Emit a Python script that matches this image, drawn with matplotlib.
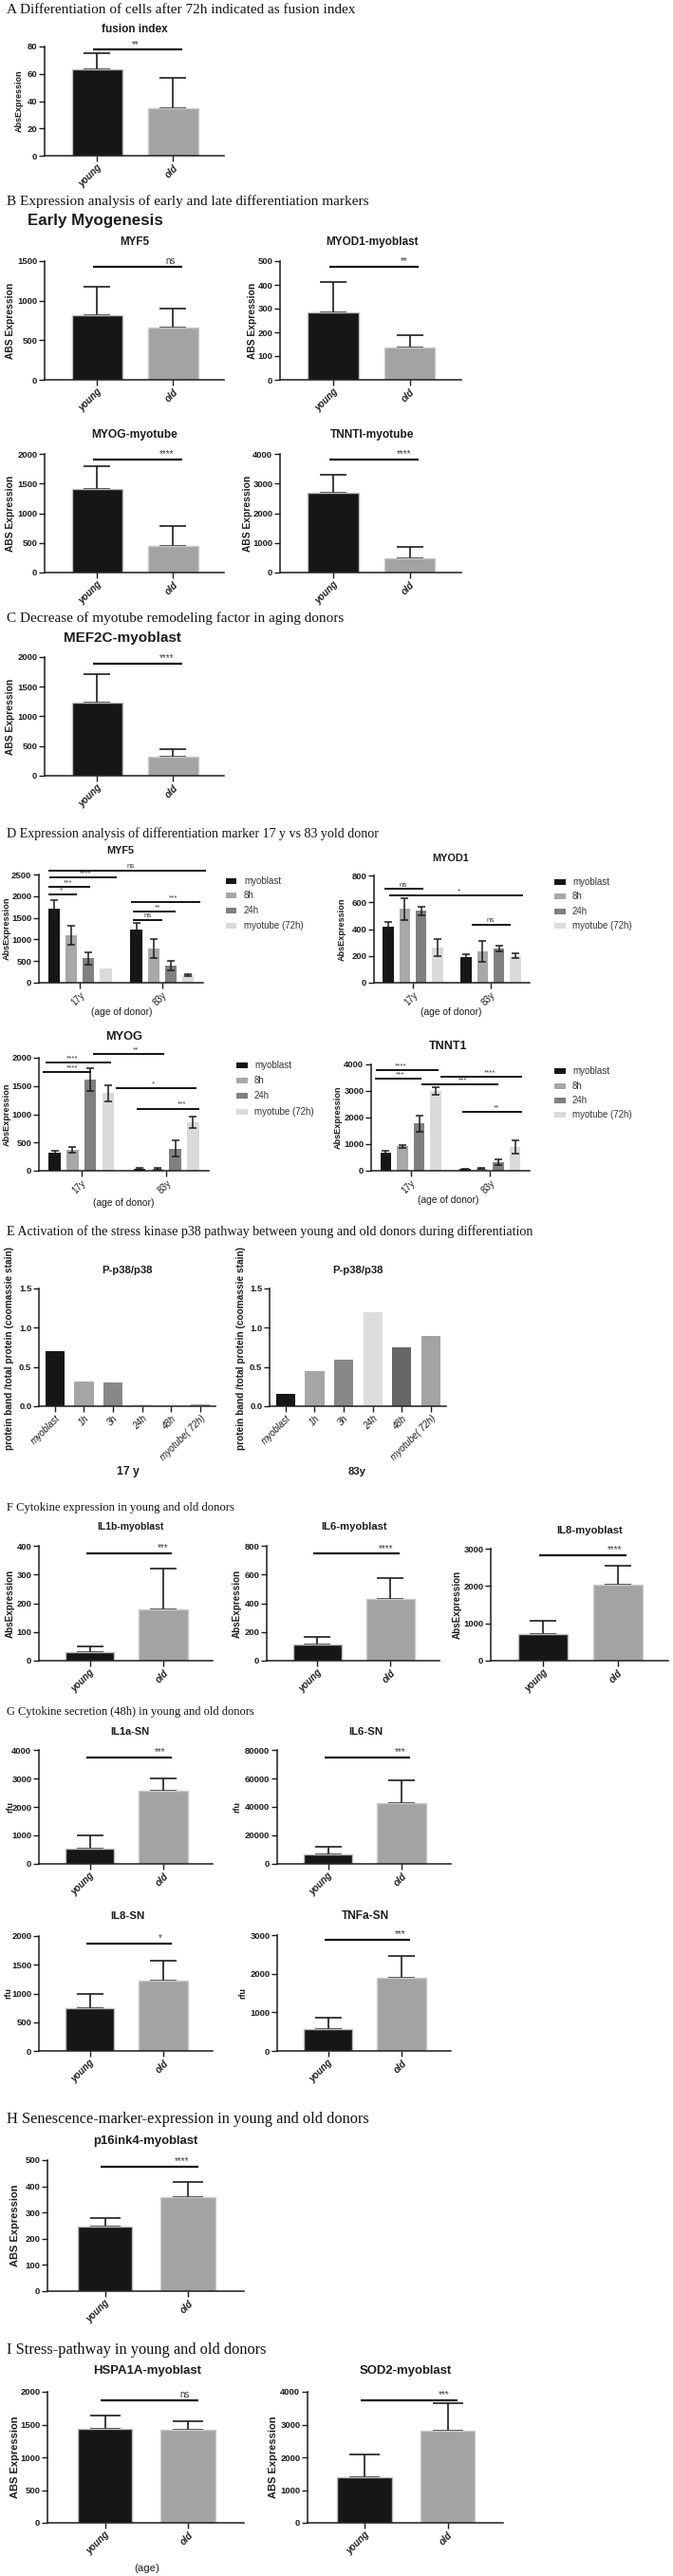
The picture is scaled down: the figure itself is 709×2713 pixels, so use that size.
import matplotlib
matplotlib.use('Agg')
import matplotlib.pyplot as plt
from matplotlib.patches import Rectangle
import numpy as np

# ---------------- data ----------------
age_groups = ['young', 'old']

A_fusion_mean = [63, 35]
A_fusion_sd = [12, 22]

B_myf5_mean = [815, 660]
B_myf5_sd = [365, 240]
B_myod1_mean = [283, 137]
B_myod1_sd = [129, 53]
B_myog_mean = [1415, 450]
B_myog_sd = [370, 340]
B_tnnti_mean = [2700, 480]
B_tnnti_sd = [610, 395]

C_mef2c_mean = [1230, 315]
C_mef2c_sd = [480, 125]

D_donors = ['17y', '83y']
D_stages = ['myoblast', '8h', '24h', 'myotube (72h)']
D_myf5_17y = [1700, 1090, 560, 320]
D_myf5_17y_sd = [205, 215, 140, 0]
D_myf5_83y = [1220, 790, 390, 170]
D_myf5_83y_sd = [160, 210, 115, 25]
D_myod1_17y = [415, 550, 535, 260]
D_myod1_17y_sd = [35, 80, 30, 65]
D_myod1_83y = [190, 235, 255, 200]
D_myod1_83y_sd = [22, 76, 24, 18]
D_myog_17y = [320, 365, 1610, 1370]
D_myog_17y_sd = [40, 50, 200, 150]
D_myog_83y = [30, 35, 390, 860]
D_myog_83y_sd = [15, 20, 140, 105]
D_tnnt1_17y = [680, 920, 1770, 3010]
D_tnnt1_17y_sd = [65, 55, 300, 140]
D_tnnt1_83y = [60, 80, 310, 890]
D_tnnt1_83y_sd = [20, 25, 110, 240]

# significance brackets: (x_start, x_end, height, label, label_x)
D_myf5_sig = [(-0.39, 1.54, 2588, 'ns', 0.62), (-0.37, 0.45, 2427, '****', 0.07),
              (-0.39, 0.12, 2223, '***', -0.15), (-0.39, -0.04, 2041, '*', -0.23),
              (0.62, 1.47, 1873, '***', 1.14), (0.64, 1.16, 1640, '**', 0.95),
              (0.64, 1.0, 1458, 'ns', 0.83)]
D_myod1_sig = [(-0.36, 0.13, 699, 'ns', -0.12), (-0.31, 1.41, 652, '*', 0.59),
               (0.76, 1.25, 431, 'ns', 1.0)]
D_myog_sig = [(0.14, 0.98, 2067, '**', 0.64), (-0.42, 0.35, 1916, '****', -0.11),
              (-0.45, 0.12, 1748, '****', -0.11), (0.41, 1.36, 1469, '*', 0.85),
              (0.65, 1.39, 1100, '***', 1.18)]
D_tnnt1_sig = [(-0.44, 0.35, 3786, '****', -0.13), (-0.45, 0.13, 3470, '***', -0.13),
               (0.37, 1.4, 3550, '****', 1.0), (0.13, 1.11, 3264, '***', 0.65),
               (0.65, 1.4, 2219, '**', 1.08)]

E_timepoints = ['myoblast', '1h', '3h', '24h', '48h', 'myotube( 72h)']
E_p38_17y = [0.70, 0.32, 0.30, 0.03, 0.005, 0.02]
E_p38_83y = [0.16, 0.45, 0.59, 1.20, 0.75, 0.90]

F_il1b_mean = [30, 180]
F_il1b_sd = [20, 140]
F_il6_mean = [115, 430]
F_il6_sd = [50, 142]
F_il8_mean = [720, 2030]
F_il8_sd = [340, 510]

G_il1a_mean = [550, 2580]
G_il1a_sd = [450, 420]
G_il6_mean = [6800, 43000]
G_il6_sd = [5200, 16000]
G_il8_mean = [745, 1215]
G_il8_sd = [255, 355]
G_tnfa_mean = [560, 1900]
G_tnfa_sd = [300, 550]

H_p16_mean = [245, 360]
H_p16_sd = [33, 55]

I_hspa1a_mean = [1440, 1415]
I_hspa1a_sd = [192, 135]
I_sod2_mean = [1400, 2800]
I_sod2_sd = [700, 860]

# ---------------- styling ----------------
C_YOUNG = '#161616'
C_OLD = '#a3a3a3'
D_COLORS = ['#161616', '#a8a8a8', '#808080', '#dadada']
E_COLORS = ['#161616', '#a6a6a6', '#888888', '#dddddd', '#666666', '#a3a3a3']
INK = '#1c1c1c'

SANS = ['Liberation Sans', 'DejaVu Sans']
SERIF = ['Liberation Serif', 'DejaVu Serif']
plt.rcParams['font.family'] = SANS

W, H = 709, 2713
fig = plt.figure(figsize=(W / 100, H / 100), dpi=100)
fig.patch.set_facecolor('white')
renderer = fig.canvas.get_renderer()

TICK_FS = 6.8


def fx(x):
    return x / W


def fy(y):
    return 1 - y / H


def fit(t, target, vertical=False):
    bb = t.get_window_extent(renderer)
    cur = bb.height if vertical else bb.width
    if cur > 0:
        t.set_fontsize(t.get_fontsize() * target / cur)
    return t


def ftext(x, y, s, fitw=None, vertical=False, **kw):
    kw.setdefault('ha', 'center')
    kw.setdefault('va', 'center')
    kw.setdefault('color', INK)
    t = fig.text(fx(x), fy(y), s, **kw)
    if fitw:
        fit(t, fitw, vertical)
    return t


def header(y, s, width):
    ftext(7, y, s, fitw=width, ha='left', family=SERIF, fontsize=11, color='#111111')


def make_ax(x0, x1, ytop, ybot):
    ax = fig.add_axes([fx(x0), fy(ybot), (x1 - x0) / W, (ybot - ytop) / H])
    ax.patch.set_alpha(0)
    return ax


def base_style(ax, ymax, step, decimals=0):
    for s in ['top', 'right']:
        ax.spines[s].set_visible(False)
    for s in ['left', 'bottom']:
        ax.spines[s].set_linewidth(1.1)
        ax.spines[s].set_color(INK)
    ax.set_ylim(0, ymax)
    ticks = np.arange(0, ymax + step / 2, step)
    ax.set_yticks(ticks)
    if decimals:
        ax.set_yticklabels(['%.1f' % v for v in ticks])
    else:
        ax.set_yticklabels(['%d' % v for v in ticks])
    ax.tick_params(axis='both', direction='out', length=4, width=1.0,
                   colors=INK, labelsize=TICK_FS, pad=1.5)
    for lab in ax.get_yticklabels():
        lab.set_fontweight('bold')


def sig_bracket(ax, x0, x1, y, label, tx, lw=1.6, fs=7):
    ax.plot([x0, x1], [y, y], color='#111111', lw=lw, clip_on=False,
            solid_capstyle='butt', zorder=5)
    ax.annotate(label, (tx, y), xytext=(0, 0.5), textcoords='offset points',
                ha='center', va='bottom', fontsize=fs, color='#3a3a3a',
                annotation_clip=False)


def simple_bar(box, title, title_xy, title_w, means, sds, ymax, step,
               ylabel, ylabel_x, ylabel_len, sig, sig_y, sig_tx=0.95):
    x0, x1, yt, yb = box
    ax = make_ax(x0, x1, yt, yb)
    xs = np.arange(len(means))
    unit_px = (x1 - x0) / 2.36
    cap_pt = 0.66 * unit_px * 0.27 / 1.389
    ax.errorbar(xs, means, yerr=[np.zeros(len(sds)), sds], fmt='none',
                ecolor=INK, elinewidth=1.2, capsize=cap_pt, capthick=1.2, zorder=1)
    ax.bar(xs, means, width=0.66, color=[C_YOUNG, C_OLD],
           edgecolor=['#bdbdbd', '#cacaca'], linewidth=1.0, zorder=2)
    ax.set_xlim(-0.69, 1.67)
    base_style(ax, ymax, step)
    ax.set_xticks(xs)
    ax.set_xticklabels(age_groups, rotation=45, ha='right', rotation_mode='anchor',
                       fontstyle='italic', fontweight='bold', fontsize=7)
    sig_bracket(ax, -0.05, 1.12, sig_y, sig, sig_tx)
    ftext(title_xy[0], title_xy[1], title, fitw=title_w, fontweight='bold', fontsize=8)
    ftext(ylabel_x, (yt + yb) / 2, ylabel, fitw=ylabel_len, vertical=True,
          rotation=90, fontweight='bold', fontsize=7)
    return ax


def grouped(box, title, title_xy, title_w, v17, s17, v83, s83, ymax, step,
            ylabel_x, sigs, leg_x, leg_ys, xlabel_xy):
    x0, x1, yt, yb = box
    ax = make_ax(x0, x1, yt, yb)
    offs = [-0.315, -0.105, 0.105, 0.315]
    centers = np.arange(2)
    for i in range(4):
        xs = centers + offs[i]
        ms = np.array([v17[i], v83[i]])
        es = np.array([s17[i], s83[i]])
        ax.bar(xs, ms, width=0.14, color=D_COLORS[i], zorder=2)
        keep = es > 0
        ax.errorbar(xs[keep], ms[keep], yerr=es[keep], fmt='none', ecolor=INK,
                    elinewidth=1.1, capsize=3.0, capthick=1.1, zorder=3)
    ax.set_xlim(-0.5, 1.5)
    base_style(ax, ymax, step)
    ax.set_xticks(centers)
    ax.set_xticklabels(D_donors, rotation=45, ha='right', rotation_mode='anchor',
                       fontsize=7)
    for (a, b, y, lab, tx) in sigs:
        sig_bracket(ax, a, b, y, lab, tx, lw=1.4, fs=5.8)
    ftext(title_xy[0], title_xy[1] - 1, title, fitw=title_w, fontweight='bold', fontsize=8)
    ftext(ylabel_x, (yt + yb) / 2, 'AbsExpression', fitw=66, vertical=True,
          rotation=90, fontweight='bold', fontsize=7)
    ftext(xlabel_xy[0], xlabel_xy[1], '(age of donor)', fitw=64, fontsize=7)
    for i, ly in enumerate(leg_ys):
        fig.add_artist(Rectangle((fx(leg_x), fy(ly + 3)), 11.5 / W, 6 / H,
                                 transform=fig.transFigure, facecolor=D_COLORS[i],
                                 edgecolor='none'))
        ftext(leg_x + 19, ly, D_stages[i], ha='left', fontsize=7, color='#333333')
    return ax


def p38(box, vals, title_xy, ylabel_x, donor, donor_xy, donor_w):
    x0, x1, yt, yb = box
    ax = make_ax(x0, x1, yt, yb)
    xs = np.arange(len(vals))
    ax.bar(xs, vals, width=0.66, color=E_COLORS, zorder=2)
    ax.set_xlim(-0.55, 5.53)
    base_style(ax, 1.5, 0.5, decimals=1)
    ax.set_xticks(xs)
    ax.set_xticklabels(E_timepoints, rotation=45, ha='right', rotation_mode='anchor',
                       fontstyle='italic', fontsize=7)
    ftext(title_xy[0], title_xy[1], 'P-p38/p38', fitw=54, fontweight='bold', fontsize=8)
    ftext(ylabel_x, 1420, 'protein band /total protein (coomassie stain)', fitw=215,
          vertical=True, rotation=90, fontweight='bold', fontsize=7)
    ftext(donor_xy[0], donor_xy[1], donor, fitw=donor_w, fontweight='bold', fontsize=8)
    return ax


# ---------------- A ----------------
header(10, 'A Differentiation of cells after 72h indicated as fusion index', 367)
simple_bar((47, 236, 49, 164), 'fusion index', (142, 31), 70, A_fusion_mean, A_fusion_sd,
           80, 20, 'AbsExpression', 20, 65, '**', 77.6, sig_tx=0.5)

# ---------------- B ----------------
header(212, 'B Expression analysis of early and late differentiation markers', 380)
ftext(29, 232, 'Early Myogenesis', fitw=142, ha='left', fontweight='bold', fontsize=12)
simple_bar((47, 236, 275, 400), 'MYF5', (142, 255), 31, B_myf5_mean, B_myf5_sd,
           1500, 500, 'ABS Expression', 11, 80, 'ns', 1428, sig_tx=0.96)
simple_bar((295, 486, 275, 400), 'MYOD1-myoblast', (392, 255), 98, B_myod1_mean, B_myod1_sd,
           500, 100, 'ABS Expression', 266, 80, '**', 475, sig_tx=0.92)
simple_bar((47, 236, 478, 603), 'MYOG-myotube', (142, 458), 91, B_myog_mean, B_myog_sd,
           2000, 500, 'ABS Expression', 11, 80, '****', 1909, sig_tx=0.92)
simple_bar((295, 486, 478, 603), 'TNNTI-myotube', (392, 458), 89, B_tnnti_mean, B_tnnti_sd,
           4000, 1000, 'ABS Expression', 261, 80, '****', 3819, sig_tx=0.92)

# ---------------- C ----------------
header(651, 'C Decrease of myotube remodeling factor in aging donors', 356)
simple_bar((47, 236, 692, 817), 'MEF2C-myoblast', (129, 672), 124, C_mef2c_mean, C_mef2c_sd,
           2000, 500, 'ABS Expression', 11, 80, '****', 1893, sig_tx=0.92)

# ---------------- D ----------------
header(878, 'D Expression analysis of differentiation marker 17 y vs 83 yold donor', 392)
grouped((41, 214, 921, 1035), 'MYF5', (127, 897), 29, D_myf5_17y, D_myf5_17y_sd,
        D_myf5_83y, D_myf5_83y_sd, 2500, 500, 7, D_myf5_sig, 238,
        [928, 943, 959, 975], (128, 1066))
grouped((394, 558, 922, 1035), 'MYOD1', (475, 905), 39, D_myod1_17y, D_myod1_17y_sd,
        D_myod1_83y, D_myod1_83y_sd, 800, 200, 360, D_myod1_sig, 584,
        [929, 944, 960, 975], (475, 1066))
grouped((41, 220, 1114, 1233), 'MYOG', (131, 1093), 39, D_myog_17y, D_myog_17y_sd,
        D_myog_83y, D_myog_83y_sd, 2000, 500, 7, D_myog_sig, 249,
        [1122, 1138, 1154, 1171], (130, 1267))
grouped((391, 558, 1121, 1233), 'TNNT1', (472, 1103), 40, D_tnnt1_17y, D_tnnt1_17y_sd,
        D_tnnt1_83y, D_tnnt1_83y_sd, 4000, 1000, 356, D_tnnt1_sig, 584,
        [1128, 1144, 1159, 1174], (472, 1264))

# ---------------- E ----------------
header(1297, 'E Activation of the stress kinase p38 pathway between young and old donors during differentiation', 554)
p38((41, 227, 1357, 1481), E_p38_17y, (134, 1338), 10, '17 y', (135, 1550), 24)
p38((284, 470, 1357, 1481), E_p38_83y, (377, 1338), 254, '83y', (376, 1550), 19)

# ---------------- F ----------------
header(1588, 'F Cytokine expression in young and old donors', 239)
simple_bar((41, 224, 1628, 1749), 'IL1b-myoblast', (137, 1608), 71, F_il1b_mean, F_il1b_sd,
           400, 100, 'AbsExpression', 11, 72, '***', 375, sig_tx=0.99)
simple_bar((281, 463, 1628, 1749), 'IL6-myoblast', (373, 1608), 70, F_il6_mean, F_il6_sd,
           800, 200, 'AbsExpression', 250, 72, '****', 745, sig_tx=0.94)
simple_bar((517, 704, 1631, 1749), 'IL8-myoblast', (621, 1612), 70, F_il8_mean, F_il8_sd,
           3000, 1000, 'AbsExpression', 482, 72, '****', 2830, sig_tx=0.96)

# ---------------- G ----------------
header(1803, 'G Cytokine secretion (48h) in young and old donors', 261)
simple_bar((41, 224, 1843, 1963), 'IL1a-SN', (137, 1824), 41, G_il1a_mean, G_il1a_sd,
           4000, 1000, 'rfu', 11, 12, '***', 3735, sig_tx=0.96)
simple_bar((292, 475, 1843, 1963), 'IL6-SN', (385, 1824), 36, G_il6_mean, G_il6_sd,
           80000, 20000, 'rfu', 250, 12, '***', 74700, sig_tx=0.98)
simple_bar((41, 224, 2039, 2160), 'IL8-SN', (134, 2018), 36, G_il8_mean, G_il8_sd,
           2000, 500, 'rfu', 9, 12, '*', 1873, sig_tx=0.96)
simple_bar((292, 475, 2038, 2160), 'TNFa-SN', (385, 2018), 50, G_tnfa_mean, G_tnfa_sd,
           3000, 1000, 'rfu', 256, 12, '***', 2877, sig_tx=0.98)

# ---------------- H ----------------
header(2232, 'H Senescence-marker-expression in young and old donors', 383)
simple_bar((50, 257, 2275, 2413), 'p16ink4-myoblast', (153, 2255), 111, H_p16_mean, H_p16_sd,
           500, 100, 'ABS Expression', 16, 87, '****', 474, sig_tx=0.92)

# ---------------- I ----------------
header(2475, 'I Stress-pathway in young and old donors', 272)
simple_bar((50, 257, 2519, 2657), 'HSPA1A-myoblast', (155, 2497), 114, I_hspa1a_mean, I_hspa1a_sd,
           2000, 500, 'ABS Expression', 16, 87, 'ns', 1874, sig_tx=0.96)
simple_bar((324, 530, 2519, 2657), 'SOD2-myoblast', (427, 2497), 99, I_sod2_mean, I_sod2_sd,
           4000, 1000, 'ABS Expression', 288, 87, '***', 3748, sig_tx=0.96)
ftext(155, 2705, '(age)', fitw=27, fontsize=8)

fig.savefig('out.png', dpi=100, facecolor='white')
